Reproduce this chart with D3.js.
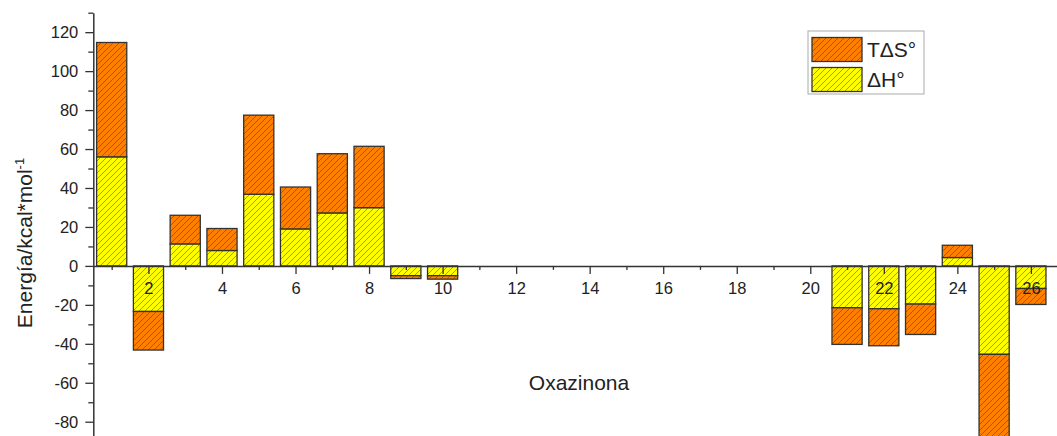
<!DOCTYPE html>
<html><head><meta charset="utf-8">
<script src="https://cdn.jsdelivr.net/npm/d3@7"></script>
<style>
html,body{margin:0;padding:0;background:#fff;}
svg{display:block;font-family:"Liberation Sans",Arial,sans-serif;}
</style></head>
<body>
<svg id="chart" width="1057" height="436"></svg>
<script>
// ---- data ----
const categories = [1,2,3,4,5,6,7,8,9,10,11,12,13,14,15,16,17,18,19,20,21,22,23,24,25,26];
const dH  = [56, -23.4, 11.3, 7.9, 36.8, 19, 27.2, 29.9, -5, -5, 0,0,0,0,0,0,0,0,0,0, -21.5, -22, -19.6, 4.3, -45.4, -11.6];
const TdS = [58.7, -19.8, 14.7, 11.3, 40.6, 21.5, 30.4, 31.5, -1.5, -1.8, 0,0,0,0,0,0,0,0,0,0, -18.8, -19, -15.6, 6.3, -50, -8.2];
const seriesNames = ["TΔS°", "ΔH°"];
const yMajorTicks = [-80,-60,-40,-20,0,20,40,60,80,100,120];
const yMinorTicks = [-90,-70,-50,-30,-10,10,30,50,70,90,110,130];
const xMajorTicks = [2,4,6,8,10,12,14,16,18,20,22,24,26];
const xMinorTicks = [1,3,5,7,9,11,13,15,17,19,21,23,25];

const svg = d3.select("#chart");
const x = d3.scaleLinear().domain([0.5, 26.71]).range([93.3, 1057]);
const y = d3.scaleLinear().domain([-90, 130]).range([441.2, 12.7]);
const barW = x(1.82) - x(1);

const defs = svg.append("defs");
function hatch(id, color){
  const p = defs.append("pattern").attr("id", id).attr("patternUnits","userSpaceOnUse")
    .attr("width", 6).attr("height", 6);
  p.append("rect").attr("width",6).attr("height",6).attr("fill",color);
  p.append("path").attr("d","M-1,1 l2,-2 M0,6 l6,-6 M5,7 l2,-2")
    .attr("stroke","#3a2a00").attr("stroke-opacity",0.55).attr("stroke-width",0.8);
}
hatch("hOrange", "#ff8000");
hatch("hYellow", "#ffff00");

const table = categories.map((c,i)=>({cat:c, dH:dH[i], TdS:TdS[i]}));
const stack = d3.stack().keys(["dH","TdS"]).offset(d3.stackOffsetDiverging);
const layers = stack(table);
const fills = {dH:"url(#hYellow)", TdS:"url(#hOrange)"};

const gBars = svg.append("g");
layers.forEach(layer=>{
  gBars.selectAll(null).data(layer.filter(d=>d[1]!==d[0])).join("rect")
    .attr("x", d=>x(d.data.cat)-barW/2)
    .attr("width", barW)
    .attr("y", d=>y(Math.max(d[0],d[1])))
    .attr("height", d=>Math.abs(y(d[0])-y(d[1])))
    .attr("fill", fills[layer.key])
    .attr("stroke","#333").attr("stroke-width",1.3);
});

// axes
const axisColor = "#333";
const fmt = d => String(d);
function style(g){
  g.select(".domain").attr("stroke",axisColor).attr("stroke-width",1.5);
  g.selectAll(".tick line").attr("stroke",axisColor).attr("stroke-width",1.3);
  g.selectAll(".tick text").attr("fill","#222").attr("font-size",16.5)
    .attr("font-family","'Liberation Sans',Arial,sans-serif");
}
const gx = svg.append("g").attr("transform",`translate(0,${y(0)})`);
gx.call(d3.axisBottom(x).tickValues(xMajorTicks).tickSize(8).tickPadding(8).tickSizeOuter(0).tickFormat(fmt)).call(style);
const gx2 = svg.append("g").attr("transform",`translate(0,${y(0)})`);
gx2.call(d3.axisBottom(x).tickValues(xMinorTicks).tickSize(4).tickSizeOuter(0).tickFormat("")).call(style);
gx2.select(".domain").remove();

const gy = svg.append("g").attr("transform",`translate(${x(0.5)},0)`);
gy.call(d3.axisLeft(y).tickValues(yMajorTicks).tickSize(8).tickPadding(7).tickSizeOuter(0).tickFormat(fmt)).call(style);
const gy2 = svg.append("g").attr("transform",`translate(${x(0.5)},0)`);
gy2.call(d3.axisLeft(y).tickValues(yMinorTicks).tickSize(5).tickSizeOuter(0).tickFormat("")).call(style);
gy2.select(".domain").remove();

// axis titles
svg.append("text").attr("x",579).attr("y",390).attr("text-anchor","middle")
  .attr("font-size",21).attr("fill","#222").text("Oxazinona");
const yl = svg.append("text").attr("transform","translate(32,243) rotate(-90)")
  .attr("text-anchor","middle").attr("font-size",21).attr("fill","#222");
yl.append("tspan").text("Energía/kcal*mol");
yl.append("tspan").attr("font-size",13).attr("dy",-8).text("-1");

// legend
const lg = svg.append("g");
lg.append("rect").attr("x",808).attr("y",31).attr("width",116).attr("height",63)
  .attr("fill","#fff").attr("stroke","#aaa").attr("stroke-width",1);
const legendFills = ["url(#hOrange)","url(#hYellow)"];
seriesNames.forEach((n,i)=>{
  lg.append("rect").attr("x",812).attr("y",37.5+i*30).attr("width",50).attr("height",24)
    .attr("fill",legendFills[i]).attr("stroke","#333").attr("stroke-width",1.3);
  lg.append("text").attr("x",867).attr("y",57+i*30).attr("font-size",21).attr("fill","#222").text(n);
});
</script>
</body></html>
